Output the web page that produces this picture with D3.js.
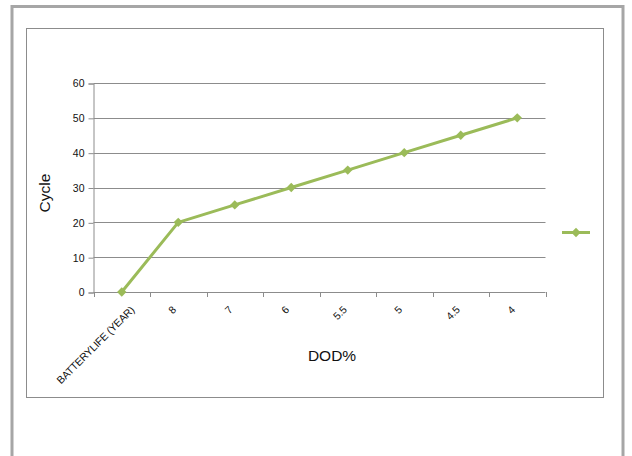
<!DOCTYPE html>
<html>
<head>
<meta charset="utf-8">
<script src="https://cdn.jsdelivr.net/npm/d3@7"></script>
<style>
  html, body { margin: 0; padding: 0; background: #ffffff; }
  svg { display: block; }
</style>
</head>
<body>
<svg id="chart" width="632" height="456"></svg>
<script>
// Battery cycle life versus depth of discharge
const categories = ["BATTERYLIFE (YEAR)", "8", "7", "6", "5.5", "5", "4.5", "4"];
const cycleValues = [0, 20, 25, 30, 35, 40, 45, 50];
const yTicks = [0, 10, 20, 30, 40, 50, 60];

const svg = d3.select("#chart");
const font = "Liberation Sans, Arial, sans-serif";

// outer frame and inner chart box
svg.append("rect").attr("x", 12).attr("y", 6.5).attr("width", 611).attr("height", 460)
  .attr("fill", "#ffffff").attr("stroke", "#a6a6a6").attr("stroke-width", 3);
svg.append("rect").attr("x", 26.5).attr("y", 28.5).attr("width", 577).attr("height", 369)
  .attr("fill", "#ffffff").attr("stroke", "#8c8c8c").attr("stroke-width", 1);

const plot = { left: 93.5, right: 545.5, top: 83, bottom: 292 };

const x = d3.scaleBand().domain(categories).range([plot.left, plot.right]).paddingInner(0).paddingOuter(0);
const y = d3.scaleLinear().domain([0, 60]).range([plot.bottom, plot.top]);
const cx = c => x(c) + x.bandwidth() / 2;

// horizontal gridlines
svg.append("g").selectAll("line").data(yTicks.filter(d => d > 0)).join("line")
  .attr("x1", plot.left).attr("x2", plot.right)
  .attr("y1", d => Math.round(y(d)) + 0.5).attr("y2", d => Math.round(y(d)) + 0.5)
  .attr("stroke", "#8c8c8c").attr("stroke-width", 1);

// y axis
const yAxis = svg.append("g").attr("transform", `translate(${plot.left},0.5)`)
  .call(d3.axisLeft(y).tickValues(yTicks).tickSize(5).tickPadding(4).tickFormat(d3.format("d")));
yAxis.select(".domain").attr("stroke", "#8c8c8c");
yAxis.selectAll(".tick line").attr("stroke", "#8c8c8c");
yAxis.selectAll(".tick text").attr("font-family", font)
  .attr("font-size", 10.5).attr("fill", "#111111");

// x axis with ticks on category boundaries
const boundaries = categories.map(c => x(c)).concat([plot.right]);
svg.append("line").attr("x1", plot.left).attr("x2", plot.right)
  .attr("y1", plot.bottom + 0.5).attr("y2", plot.bottom + 0.5).attr("stroke", "#8c8c8c");
svg.append("g").selectAll("line").data(boundaries).join("line")
  .attr("x1", d => Math.round(d) + 0.5).attr("x2", d => Math.round(d) + 0.5)
  .attr("y1", plot.bottom).attr("y2", plot.bottom + 5).attr("stroke", "#8c8c8c");

// rotated category labels; longer labels sit further right of their slot centre
const labels = svg.append("g").selectAll("text").data(categories).join("text")
  .attr("text-anchor", "end")
  .attr("dy", "0.35em")
  .attr("font-family", font)
  .attr("font-size", 10.5).attr("fill", "#111111")
  .attr("letter-spacing", -0.2)
  .text(d => d);
labels.attr("transform", function (d) {
  const len = this.getComputedTextLength();
  const shift = -5 + 0.15 * len;
  return `translate(${cx(d) + shift},${plot.bottom + 16}) rotate(-45)`;
});

// axis titles
svg.append("text").attr("x", 332).attr("y", 361).attr("text-anchor", "middle")
  .attr("font-family", font).attr("font-size", 15.5).attr("fill", "#111111")
  .text("DOD%");
svg.append("text").attr("transform", "translate(50,193) rotate(-90)").attr("text-anchor", "middle")
  .attr("font-family", font).attr("font-size", 15.5).attr("fill", "#111111")
  .text("Cycle");

// series line and markers
const green = "#9bbb59";
const line = d3.line().x((d, i) => cx(categories[i])).y(d => y(d));
svg.append("path").datum(cycleValues).attr("d", line)
  .attr("fill", "none").attr("stroke", green).attr("stroke-width", 3).attr("stroke-linejoin", "round");

const diamond = d3.symbol().type(d3.symbolDiamond2).size(56);
svg.append("g").selectAll("path").data(cycleValues).join("path")
  .attr("transform", (d, i) => `translate(${cx(categories[i])},${y(d)})`)
  .attr("d", diamond).attr("fill", green);

// legend entry
svg.append("line").attr("x1", 562).attr("x2", 590).attr("y1", 232.5).attr("y2", 232.5)
  .attr("stroke", green).attr("stroke-width", 3);
svg.append("path").attr("transform", "translate(576,232.5)").attr("d", diamond).attr("fill", green);
</script>
</body>
</html>
